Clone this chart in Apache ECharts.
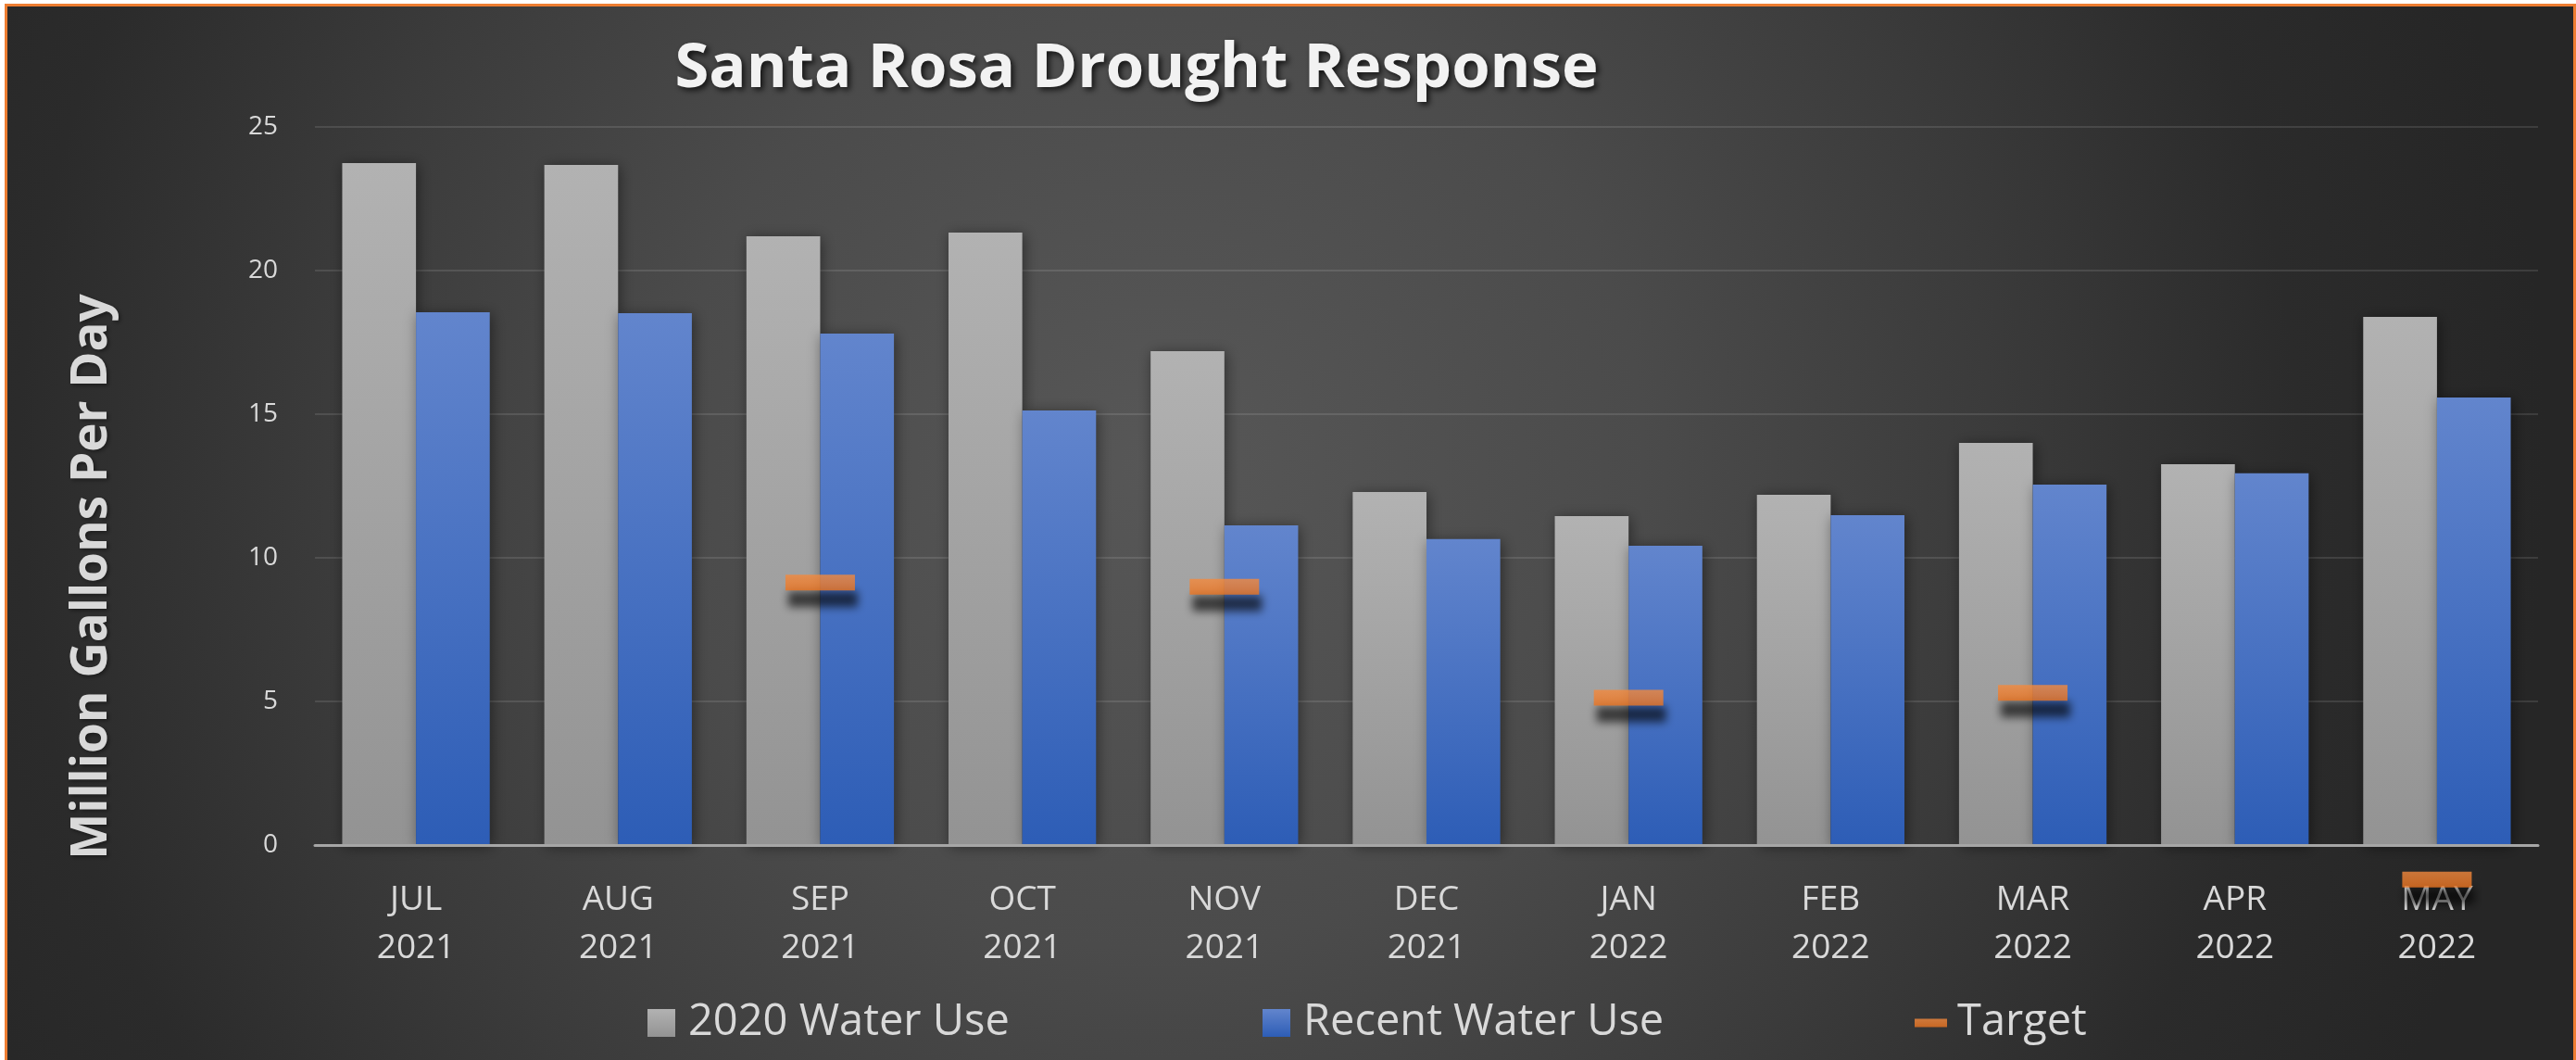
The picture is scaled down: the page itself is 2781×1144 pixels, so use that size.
<!DOCTYPE html>
<html>
<head>
<meta charset="utf-8">
<title>Santa Rosa Drought Response</title>
<script src="https://cdn.jsdelivr.net/npm/echarts@6/dist/echarts.min.js"></script>
<style>
  html, body { margin: 0; padding: 0; background: #ffffff; }
  #chart { width: 2781px; height: 1144px; }
</style>
</head>
<body>
<div id="chart"></div>
<script>
// Monthly water use, million gallons per day
const months = ['JUL', 'AUG', 'SEP', 'OCT', 'NOV', 'DEC', 'JAN', 'FEB', 'MAR', 'APR', 'MAY'];
const years = ['2021', '2021', '2021', '2021', '2021', '2021', '2022', '2022', '2022', '2022', '2022'];
const use2020 = [23.74, 23.68, 21.19, 21.32, 17.19, 12.29, 11.45, 12.19, 14.00, 13.26, 18.39];
const recentUse = [18.55, 18.52, 17.81, 15.13, 11.13, 10.65, 10.42, 11.48, 12.55, 12.94, 15.58];
const target = [null, null, 9.14, null, 8.99, null, 5.13, null, 5.30, null, -1.2];
const yTicks = { min: 0, max: 25, interval: 5 };

const categories = months.map((m, i) => m + '\n' + years[i]);

const LABEL = '#d9d9d9';
const FONT = '"Open Sans", "Noto Sans", sans-serif';

const chart = echarts.init(document.getElementById('chart'), null, { renderer: 'canvas' });

const grayFill = new echarts.graphic.LinearGradient(0, 0, 0, 1, [
  { offset: 0, color: '#b2b2b2' },
  { offset: 1, color: '#939393' }
]);
const blueFill = new echarts.graphic.LinearGradient(0, 0, 0, 1, [
  { offset: 0, color: '#6285cd' },
  { offset: 1, color: '#2d5db6' }
]);
const orangeFill = new echarts.graphic.LinearGradient(0, 0, 0, 1, [
  { offset: 0, color: '#f48a3e' },
  { offset: 1, color: '#ec7420' }
]);

const legendBase = {
  top: 1079,
  padding: 0,
  itemGap: 0,
  selectedMode: false,
  textStyle: {
    color: LABEL,
    fontSize: 47,
    fontFamily: FONT,
    lineHeight: 50,
    padding: [0, 0, 0, 9]
  }
};

chart.setOption({
  backgroundColor: '#ffffff',
  animation: false,
  graphic: [
    {
      type: 'rect',
      z: -10,
      silent: true,
      shape: { x: 6, y: 5, width: 2781, height: 1150 },
      style: {
        fill: {
          type: 'radial', x: 1250, y: 500, r: 1500, global: true,
          colorStops: [
            { offset: 0, color: '#575757' },
            { offset: 0.35, color: '#4b4b4b' },
            { offset: 0.6, color: '#3b3b3b' },
            { offset: 0.82, color: '#2b2b2b' },
            { offset: 1, color: '#262626' }
          ]
        }
      }
    },
    {
      type: 'rect',
      z: 100,
      silent: true,
      shape: { x: 6.5, y: 5.5, width: 2773, height: 1150 },
      style: { fill: null, stroke: '#ED7D31', lineWidth: 3 }
    }
  ],
  title: {
    text: 'Santa Rosa Drought Response',
    left: 1222,
    top: 36,
    textAlign: 'center',
    textStyle: {
      color: '#f2f2f2',
      fontSize: 67,
      fontWeight: 'bold',
      fontFamily: FONT,
      textShadowColor: 'rgba(0,0,0,0.75)',
      textShadowBlur: 6,
      textShadowOffsetX: 3,
      textShadowOffsetY: 3
    }
  },
  legend: [
    Object.assign({}, legendBase, {
      left: 699, itemWidth: 30, itemHeight: 30,
      data: [{ name: '2020 Water Use', icon: 'rect' }]
    }),
    Object.assign({}, legendBase, {
      left: 1363, itemWidth: 30, itemHeight: 30,
      data: [{ name: 'Recent Water Use', icon: 'rect' }]
    }),
    Object.assign({}, legendBase, {
      left: 2067, itemWidth: 35, itemHeight: 9,
      textStyle: Object.assign({}, legendBase.textStyle, { padding: [0, 0, 0, 6] }),
      data: [{ name: 'Target', icon: 'rect' }]
    })
  ],
  grid: { left: 340, right: 41, top: 137, bottom: 232, containLabel: false },
  xAxis: {
    type: 'category',
    data: categories,
    axisTick: { show: false },
    axisLine: { lineStyle: { color: '#a6a6a6', width: 3 } },
    axisLabel: {
      color: LABEL,
      fontSize: 37,
      fontFamily: FONT,
      lineHeight: 52,
      margin: 33,
      interval: 0
    },
    z: 3
  },
  yAxis: {
    type: 'value',
    min: yTicks.min,
    max: yTicks.max,
    interval: yTicks.interval,
    name: 'Million Gallons Per Day',
    nameLocation: 'middle',
    nameGap: 214,
    nameRotate: 90,
    nameTextStyle: {
      color: LABEL,
      fontSize: 53,
      fontWeight: 'bold',
      fontFamily: FONT,
      textShadowColor: 'rgba(0,0,0,0.4)',
      textShadowBlur: 4,
      textShadowOffsetX: 2,
      textShadowOffsetY: 2,
      padding: [0, 196, 0, 0]
    },
    axisLine: { show: false },
    axisTick: { show: false },
    axisLabel: { color: LABEL, fontSize: 28, fontFamily: FONT, margin: 40 },
    splitLine: { lineStyle: { color: 'rgba(255,255,255,0.11)', width: 2 } }
  },
  series: [
    {
      name: '2020 Water Use',
      type: 'bar',
      data: use2020,
      barGap: '0%',
      barCategoryGap: '27%',
      itemStyle: {
        color: grayFill,
        shadowColor: 'rgba(0,0,0,0.45)',
        shadowBlur: 14,
        shadowOffsetX: 2,
        shadowOffsetY: 2
      },
      z: 2
    },
    {
      name: 'Recent Water Use',
      type: 'bar',
      data: recentUse,
      itemStyle: {
        color: blueFill,
        shadowColor: 'rgba(0,0,0,0.45)',
        shadowBlur: 14,
        shadowOffsetX: 2,
        shadowOffsetY: 2
      },
      z: 2
    },
    {
      name: 'Target',
      type: 'scatter',
      data: target,
      clip: false,
      symbol: 'rect',
      symbolSize: [75, 17],
      itemStyle: {
        color: orangeFill,
        shadowColor: 'rgba(0,0,0,0.8)',
        shadowBlur: 10,
        shadowOffsetX: 3,
        shadowOffsetY: 18
      },
      z: 5
    }
  ]
});
</script>
</body>
</html>
